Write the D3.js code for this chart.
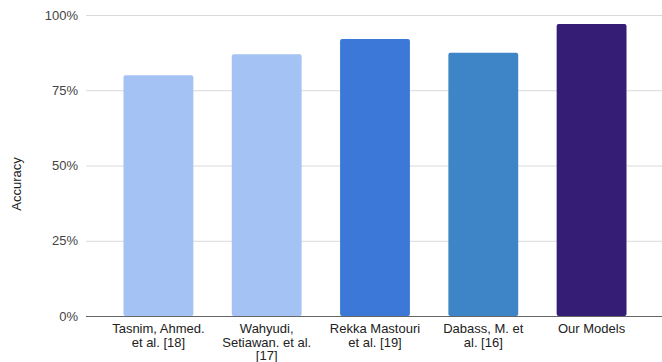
<!DOCTYPE html>
<html>
<head>
<meta charset="utf-8">
<script src="https://cdn.jsdelivr.net/npm/d3@7"></script>
<style>
  html, body { margin: 0; padding: 0; background: #fff; }
  svg { display: block; font-family: "Liberation Sans", Arial, sans-serif; }
</style>
</head>
<body>
<svg id="chart" width="662" height="362"></svg>
<script>
// Accuracy of published models versus ours
const categories = [
  "Tasnim, Ahmed. et al. [18]",
  "Wahyudi, Setiawan. et al. [17]",
  "Rekka Mastouri et al. [19]",
  "Dabass, M. et al. [16]",
  "Our Models"
];
// Wrapped axis labels, one array of lines per category
const categoryLines = [
  ["Tasnim, Ahmed.", "et al. [18]"],
  ["Wahyudi,", "Setiawan. et al.", "[17]"],
  ["Rekka Mastouri", "et al. [19]"],
  ["Dabass, M. et", "al. [16]"],
  ["Our Models"]
];
const accuracy = [0.80, 0.87, 0.92, 0.875, 0.97];
const barColors = ["#a4c2f4", "#a4c2f4", "#3c78d8", "#3d85c6", "#351c75"];
const yTicks = [0, 0.25, 0.5, 0.75, 1];
const yLabel = "Accuracy";

const svg = d3.select("#chart");
const plotLeft = 86, plotRight = 662, plotTop = 15, plotBottom = 316;

const x = d3.scaleBand()
  .domain(categories)
  .range([104, 646])
  .paddingInner(0.355)
  .paddingOuter(0.18);

const y = d3.scaleLinear().domain([0, 1]).range([plotBottom, plotTop]);

// Gridlines
svg.append("g")
  .selectAll("line")
  .data(yTicks.filter(t => t > 0))
  .join("line")
  .attr("x1", plotLeft).attr("x2", plotRight)
  .attr("y1", d => y(d) + 0.5).attr("y2", d => y(d) + 0.5)
  .attr("stroke", "#d9d9d9").attr("stroke-width", 1);

// Y tick labels
svg.append("g")
  .selectAll("text")
  .data(yTicks)
  .join("text")
  .attr("x", 78)
  .attr("y", d => y(d))
  .attr("dy", "0.35em")
  .attr("text-anchor", "end")
  .attr("font-size", 13)
  .attr("fill", "#444")
  .text(d => d3.format(".0%")(d));

// Bars
svg.append("g")
  .selectAll("rect")
  .data(accuracy)
  .join("rect")
  .attr("x", (d, i) => x(categories[i]))
  .attr("width", x.bandwidth())
  .attr("y", d => y(d))
  .attr("height", d => y(0) - y(d))
  .attr("rx", 2)
  .attr("fill", (d, i) => barColors[i]);

// Baseline
svg.append("line")
  .attr("x1", plotLeft).attr("x2", plotRight)
  .attr("y1", y(0) + 0.5).attr("y2", y(0) + 0.5)
  .attr("stroke", "#666").attr("stroke-width", 1);

// Category labels
const xl = svg.append("g")
  .selectAll("text")
  .data(categories)
  .join("text")
  .attr("x", d => x(d) + x.bandwidth() / 2)
  .attr("y", 333)
  .attr("text-anchor", "middle")
  .attr("font-size", 13)
  .attr("fill", "#222");
xl.selectAll("tspan")
  .data((d, i) => categoryLines[i])
  .join("tspan")
  .attr("x", function () { return this.parentNode.getAttribute("x"); })
  .attr("dy", (d, j) => j === 0 ? 0 : 13.5)
  .text(d => d);

// Y axis title
svg.append("text")
  .attr("transform", `translate(21,184) rotate(-90)`)
  .attr("text-anchor", "middle")
  .attr("font-size", 13)
  .attr("fill", "#222")
  .text(yLabel);
</script>
</body>
</html>
